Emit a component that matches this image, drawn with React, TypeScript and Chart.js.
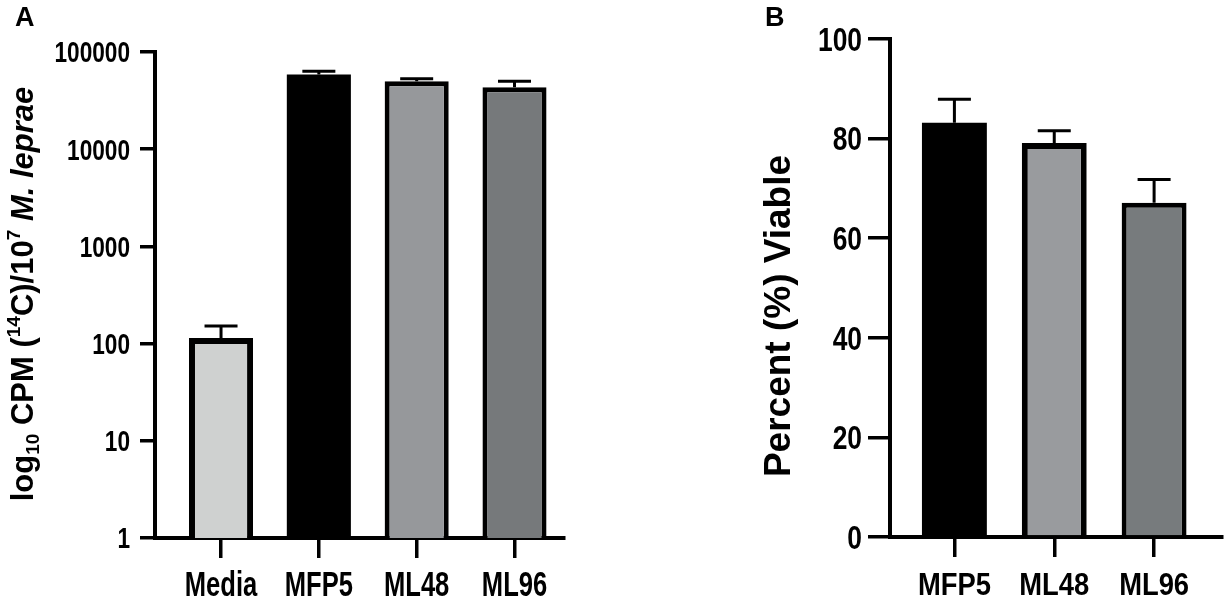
import React, { useEffect, useRef } from 'react';
import { Chart, registerables } from 'chart.js';

Chart.register(...registerables);

const SANS = "'Liberation Sans', Arial, sans-serif";

// Panel A data
const categoriesA = ['Media', 'MFP5', 'ML48', 'ML96'];
const cpmMeans = [114, 58700, 50100, 43500];
const cpmErrors = [38, 4700, 2900, 6600];
const cpmTicks = [1, 10, 100, 1000, 10000, 100000];
const colorsA = ['#cfd1d0', '#000000', '#96989b', '#76797b'];

// Panel B data
const categoriesB = ['MFP5', 'ML48', 'ML96'];
const viableMeans = [83.2, 79.1, 67.1];
const viableErrors = [4.7, 2.5, 4.7];
const viableTicks = [0, 20, 40, 60, 80, 100];
const colorsB = ['#000000', '#999b9e', '#777b7d'];

type Seg = { text: string; size: number; dy: number; italic?: boolean };
type LabelStyle = { size: number; sx: number; pos: number };

function makeErrorBars(means: number[], errors: number[]) {
  return {
    id: 'errorBars',
    afterDatasetsDraw(chart: any) {
      const meta = chart.getDatasetMeta(0);
      const ys = chart.scales.y;
      const ctx = chart.ctx;
      ctx.save();
      ctx.strokeStyle = '#000';
      ctx.lineWidth = 3;
      meta.data.forEach((el: any, i: number) => {
        const top = ys.getPixelForValue(means[i] + errors[i]);
        const base = el.y;
        ctx.beginPath();
        ctx.moveTo(el.x, base);
        ctx.lineTo(el.x, top);
        ctx.moveTo(el.x - 16.5, top);
        ctx.lineTo(el.x + 16.5, top);
        ctx.stroke();
      });
      ctx.restore();
    },
  };
}

// Condensed bold tick labels (Arial-Narrow look), placed from the scales
function makeTickLabels(cats: string[], yTicks: number[], xs: LabelStyle, ys: LabelStyle) {
  return {
    id: 'tickLabels',
    afterDraw(chart: any) {
      const ctx = chart.ctx;
      const xScale = chart.scales.x;
      const yScale = chart.scales.y;
      ctx.save();
      ctx.fillStyle = '#000';
      ctx.textBaseline = 'alphabetic';
      ctx.font = `bold ${xs.size}px ${SANS}`;
      ctx.textAlign = 'center';
      cats.forEach((c, i) => {
        const x = xScale.getPixelForValue(i);
        ctx.save();
        ctx.translate(x, xs.pos);
        ctx.scale(xs.sx, 1);
        ctx.fillText(c, 0, 0);
        ctx.restore();
      });
      ctx.font = `bold ${ys.size}px ${SANS}`;
      ctx.textAlign = 'right';
      yTicks.forEach((v) => {
        const y = yScale.getPixelForValue(v) + ys.size * 0.358;
        ctx.save();
        ctx.translate(ys.pos, y);
        ctx.scale(ys.sx, 1);
        ctx.fillText(String(v), 0, 0);
        ctx.restore();
      });
      ctx.restore();
    },
  };
}

function makeTitle(segs: Seg[], bx: number, cy: number, letter: string, lx: number, ly: number) {
  return {
    id: 'richTitle',
    afterDraw(chart: any) {
      const ctx = chart.ctx;
      ctx.save();
      ctx.fillStyle = '#000';
      const fontOf = (s: Seg) => `${s.italic ? 'italic ' : ''}bold ${s.size}px ${SANS}`;
      let total = 0;
      segs.forEach((s) => {
        ctx.font = fontOf(s);
        total += ctx.measureText(s.text).width;
      });
      ctx.translate(bx, cy);
      ctx.rotate(-Math.PI / 2);
      ctx.textBaseline = 'alphabetic';
      ctx.textAlign = 'left';
      let x = -total / 2;
      segs.forEach((s) => {
        ctx.font = fontOf(s);
        ctx.fillText(s.text, x, s.dy);
        x += ctx.measureText(s.text).width;
      });
      ctx.restore();
      ctx.save();
      ctx.fillStyle = '#000';
      ctx.font = `bold 27px ${SANS}`;
      ctx.textBaseline = 'alphabetic';
      ctx.fillText(letter, lx, ly);
      ctx.restore();
    },
  };
}

function baseScales(cats: string[], xmin: number, xmax: number, xh: number, yw: number, ytl: number) {
  return {
    x: {
      type: 'linear' as const,
      min: xmin,
      max: xmax,
      offset: false,
      afterBuildTicks: (s: any) => {
        s.ticks = cats.map((_, i) => ({ value: i }));
      },
      afterFit: (s: any) => {
        s.height = xh;
      },
      grid: { offset: false, drawOnChartArea: false, drawTicks: true, tickLength: 20, color: '#000', lineWidth: 3.5 },
      border: { display: true, color: '#000', width: 4 },
      ticks: { display: false },
    },
    y: {
      afterFit: (s: any) => {
        s.width = yw;
      },
      grid: { drawOnChartArea: false, drawTicks: true, tickLength: ytl, color: '#000', lineWidth: 3.5 },
      border: { display: true, color: '#000', width: 4 },
      ticks: { display: false },
    },
  };
}

function PanelA() {
  const ref = useRef<HTMLCanvasElement>(null);
  useEffect(() => {
    if (!ref.current) return;
    const scales: any = baseScales(categoriesA, -0.675, 3.506, 59, 155, 15);
    scales.y = {
      ...scales.y,
      type: 'logarithmic',
      min: 1,
      max: 100000,
      afterBuildTicks: (s: any) => {
        s.ticks = cpmTicks.map((v) => ({ value: v }));
      },
    };
    const segs: Seg[] = [
      { text: 'log', size: 31, dy: 0 },
      { text: '10', size: 19, dy: 6 },
      { text: ' CPM (', size: 31, dy: 0 },
      { text: '14', size: 19, dy: -13 },
      { text: 'C)/10', size: 31, dy: 0 },
      { text: '7', size: 19, dy: -13 },
      { text: ' ', size: 31, dy: 0 },
      { text: 'M. leprae', size: 31, dy: 0, italic: true },
    ];
    const chart = new Chart(ref.current, {
      type: 'bar',
      data: {
        datasets: [
          {
            data: cpmMeans.map((v, i) => ({ x: i, y: v })),
            backgroundColor: colorsA,
            borderColor: '#000',
            borderWidth: [6, 0, 5, 5],
            borderSkipped: 'start',
            categoryPercentage: 1,
            barPercentage: 0.655,
          },
        ],
      },
      options: {
        responsive: false,
        animation: false,
        layout: { padding: { left: 0, right: 51, top: 52, bottom: 0 } },
        plugins: { legend: { display: false }, tooltip: { enabled: false } },
        scales,
      },
      plugins: [
        makeErrorBars(cpmMeans, cpmErrors),
        makeTickLabels(categoriesA, cpmTicks, { size: 35, sx: 0.73, pos: 596 }, { size: 29, sx: 0.78, pos: 130 }),
        makeTitle(segs, 33, 294, 'A', 15, 26),
      ],
    });
    return () => chart.destroy();
  }, []);
  return <canvas ref={ref} width={615} height={597} style={{ position: 'absolute', left: 0, top: 0, width: 615, height: 597 }} />;
}

function PanelB() {
  const ref = useRef<HTMLCanvasElement>(null);
  useEffect(() => {
    if (!ref.current) return;
    const scales: any = baseScales(categoriesB, -0.645, 2.68, 60, 275, 22);
    scales.y = {
      ...scales.y,
      type: 'linear',
      min: 0,
      max: 100,
      afterBuildTicks: (s: any) => {
        s.ticks = viableTicks.map((v) => ({ value: v }));
      },
    };
    const segs: Seg[] = [{ text: 'Percent (%) Viable', size: 37, dy: 0 }];
    const chart = new Chart(ref.current, {
      type: 'bar',
      data: {
        datasets: [
          {
            data: viableMeans.map((v, i) => ({ x: i, y: v })),
            backgroundColor: colorsB,
            borderColor: '#000',
            borderWidth: [0, 6, 5],
            borderSkipped: 'start',
            categoryPercentage: 1,
            barPercentage: 0.65,
          },
        ],
      },
      options: {
        responsive: false,
        animation: false,
        layout: { padding: { left: 0, right: 8, top: 39, bottom: 0 } },
        plugins: { legend: { display: false }, tooltip: { enabled: false } },
        scales,
      },
      plugins: [
        makeErrorBars(viableMeans, viableErrors),
        makeTickLabels(categoriesB, viableTicks, { size: 32, sx: 0.855, pos: 595 }, { size: 33, sx: 0.8, pos: 247 }),
        makeTitle(segs, 175, 316, 'B', 150, 26),
      ],
    });
    return () => chart.destroy();
  }, []);
  return <canvas ref={ref} width={615} height={597} style={{ position: 'absolute', left: 615, top: 0, width: 615, height: 597 }} />;
}

export default function App() {
  return (
    <div style={{ position: 'absolute', left: 0, top: 0, width: 1230, height: 597, background: '#fff', overflow: 'hidden' }}>
      <PanelA />
      <PanelB />
    </div>
  );
}
